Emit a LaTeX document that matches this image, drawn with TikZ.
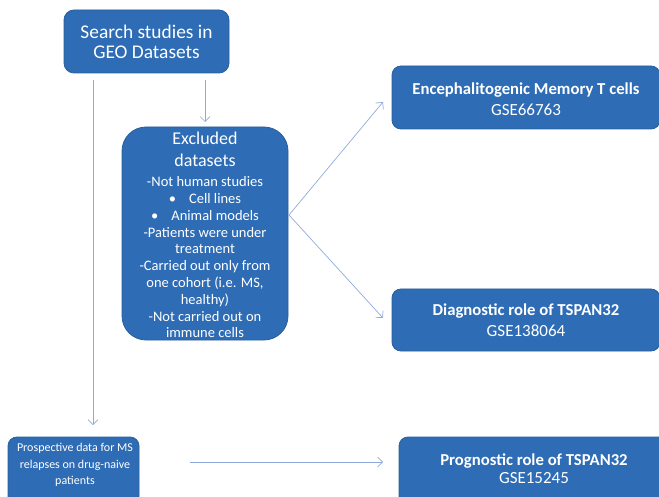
\documentclass[tikz,border=0pt]{standalone}
\usepackage{fontspec}
\setmainfont{Carlito}
\usetikzlibrary{arrows.meta}
\definecolor{boxblue}{HTML}{2E6CB5}
\definecolor{boxedge}{HTML}{2A5E9C}
\definecolor{linkblue}{HTML}{8EAADB}
\begin{document}
\begin{tikzpicture}[x=1pt,y=-1pt,
  box/.style={draw=boxedge,line width=0.8pt,fill=boxblue,inner sep=0pt,anchor=center},
  wtxt/.style={text=white,align=center,inner sep=0pt,anchor=north},
  link/.style={draw=linkblue,line width=0.7pt,-{Straight Barb[length=5pt,width=10pt,line width=0.7pt]}}]
\useasboundingbox (0,0) rectangle (659,497);
\begin{scope}
\clip (0,0) rectangle (659,497);
\node[box,rounded corners=10pt,minimum width=165pt,minimum height=63pt] (search) at (146.5,41.5) {};
\node[wtxt,font=\fontsize{19.4}{20}\selectfont] (searchtxt) at (146.5,24.5) {Search studies in\\GEO Datasets};
\node[box,rounded corners=24pt,minimum width=166pt,minimum height=213pt] (excl) at (205,233.5) {};
\node[wtxt,font=\fontsize{18}{22}\selectfont] (exclhead) at (205,132) {Excluded\\datasets};
\node[wtxt,font=\fontsize{14.5}{16.8}\selectfont] (excllist) at (205,176.5) {-Not human studies\\
\textbullet\hspace{0.9em}Cell lines\\
\textbullet\hspace{0.9em}Animal models\\
-Patients were under\\treatment\\
-Carried out only from\\one cohort (i.e. MS,\\healthy)\\
-Not carried out on\\immune cells};
\node[box,rounded corners=9pt,minimum width=268pt,minimum height=63pt] (enceph) at (526,97.5) {};
\node[wtxt,font=\fontsize{16.7}{17}\selectfont\bfseries] (encephA) at (526,83) {Encephalitogenic Memory T cells};
\node[wtxt,font=\fontsize{17}{17}\selectfont] (encephB) at (526,103.5) {GSE66763};
\node[box,rounded corners=9pt,minimum width=268pt,minimum height=62pt] (diag) at (526,320) {};
\node[wtxt,font=\fontsize{16.7}{17}\selectfont\bfseries] (diagA) at (526,304) {Diagnostic role of TSPAN32};
\node[wtxt,font=\fontsize{17}{17}\selectfont] (diagB) at (526,324.5) {GSE138064};
\node[box,rounded corners=9pt,minimum width=131pt,minimum height=68pt] (prosp) at (73.5,471) {};
\node[wtxt,font=\fontsize{12}{16.5}\selectfont] (prosptxt) at (75,443) {Prospective data for MS\\relapses on drug-naive\\patients};
\node[box,rounded corners=9pt,minimum width=270pt,minimum height=68pt] (progn) at (534,471) {};
\node[wtxt,font=\fontsize{16.7}{17}\selectfont\bfseries] (prognA) at (534,454) {Prognostic role of TSPAN32};
\node[wtxt,font=\fontsize{17}{17}\selectfont] (prognB) at (534,472.5) {GSE15245};
\end{scope}
\coordinate (s1) at (205,80);
\coordinate (e1) at (205,122);
\coordinate (s2) at (93,80);
\coordinate (e2) at (93,425);
\coordinate (apex) at (289,215);
\coordinate (t1) at (383,102);
\coordinate (t2) at (383,318);
\coordinate (s3) at (190,462);
\coordinate (e3) at (383,462);
\draw[link] (s1) -- (e1);
\draw[link] (s2) -- (e2);
\draw[link] (apex) -- (t1);
\draw[link] (apex) -- (t2);
\draw[link] (s3) -- (e3);
\end{tikzpicture}
\end{document}
